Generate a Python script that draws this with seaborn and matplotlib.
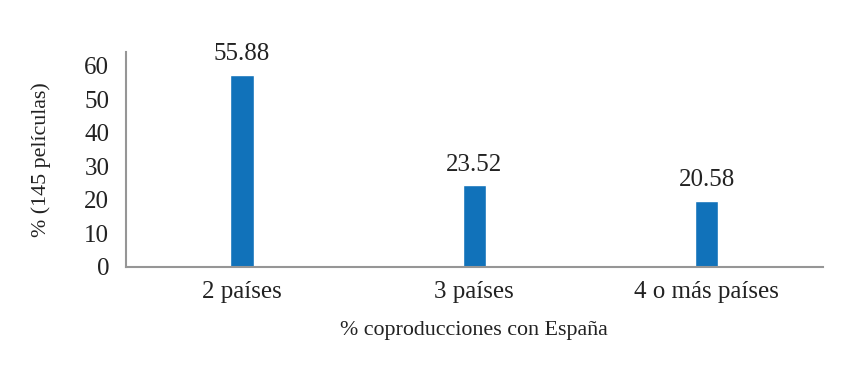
import pandas as pd
import matplotlib
matplotlib.use("Agg")
import matplotlib.pyplot as plt
import seaborn as sns

categorias = ["2 países", "3 países", "4 o más países"]
alturas = [57.3, 24.3, 19.6]
etiquetas = ["55.88", "23.52", "20.58"]


def main():
    sns.set_style("white")
    plt.rcParams["font.family"] = ["Liberation Serif", "DejaVu Serif"]
    fs = 18
    fs_lab = 15.8

    df = pd.DataFrame({"categoria": categorias, "valor": alturas})

    fig = plt.figure(figsize=(8.57, 3.78), dpi=100)
    ax = fig.add_axes([0.147, 0.294, 0.813, 0.568])

    sns.barplot(data=df, x="categoria", y="valor", color="#1172ba",
                saturation=1, width=0.1, ax=ax)

    for i, txt in enumerate(etiquetas):
        ax.annotate(txt, (i, alturas[i]), xytext=(0, 7), textcoords="offset points",
                    ha="center", va="bottom", fontsize=fs, color="#222222")

    ax.set_xlim(-0.5, 2.5)
    ax.set_ylim(0, 64)
    ax.set_yticks(range(0, 61, 10))
    ax.tick_params(axis="both", length=0, labelsize=fs, colors="#222222")
    ax.tick_params(axis="x", pad=10)
    ax.tick_params(axis="y", pad=12)

    for side in ["top", "right"]:
        ax.spines[side].set_visible(False)
    for side in ["left", "bottom"]:
        ax.spines[side].set_color("#969696")
        ax.spines[side].set_linewidth(1.5)

    ax.set_xlabel("% coproducciones con España", fontsize=fs_lab, color="#222222", labelpad=13)
    ax.set_ylabel("% (145 películas)", fontsize=fs_lab, color="#222222", labelpad=24)

    fig.savefig("out.png", dpi=100)


if __name__ == "__main__":
    main()
